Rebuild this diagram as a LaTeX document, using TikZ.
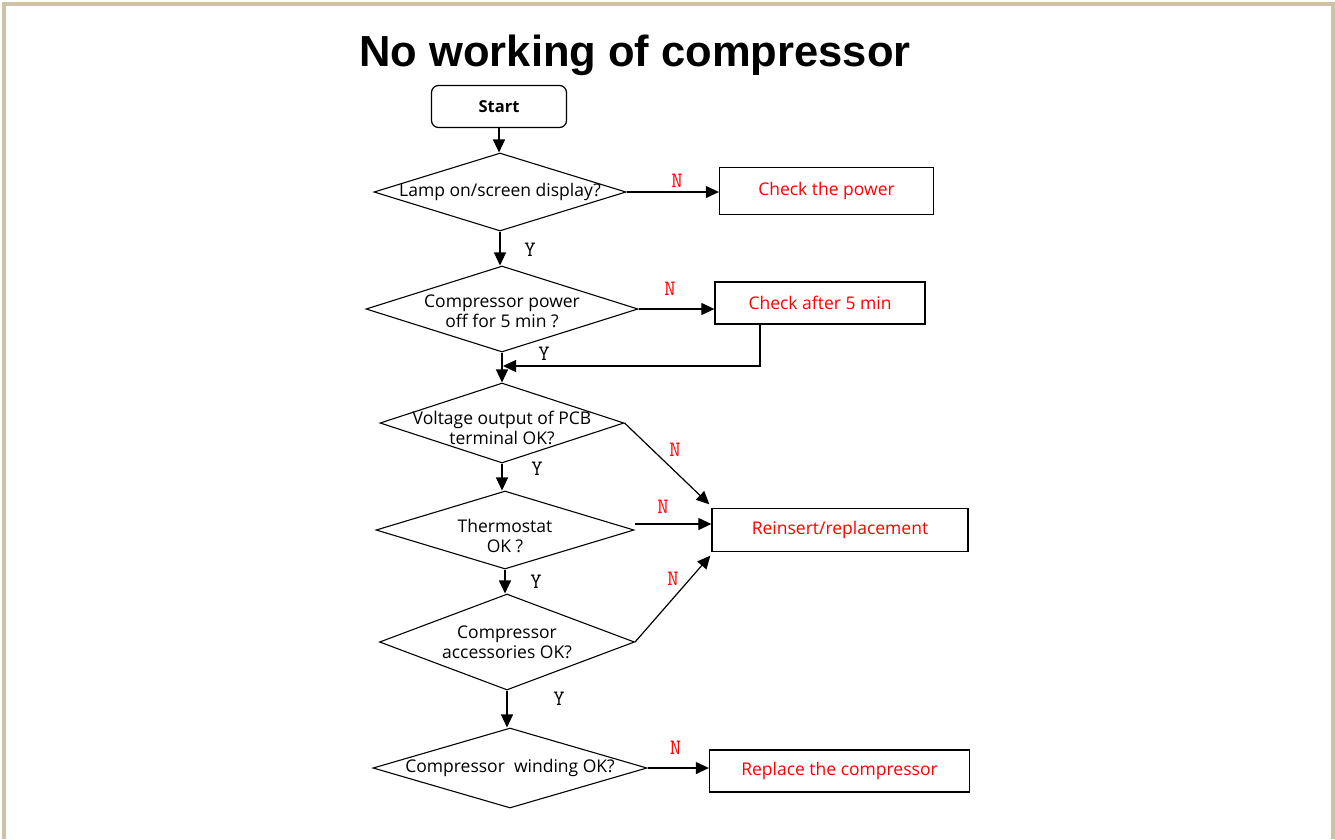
\documentclass[tikz,border=0pt]{standalone}
\usepackage{fontspec}
\usepackage{tikz}
\usetikzlibrary{arrows.meta, calc, positioning, shapes.geometric}
\newfontfamily\bodyfont{Open Sans}
\newfontfamily\titlefont{Liberation Sans}
\definecolor{framecol}{RGB}{206,193,166}
\begin{document}
\begin{tikzpicture}[x=1pt,y=-1pt,
    arr/.style={-{Triangle[length=13pt,width=12pt]},line width=1.2pt},
    decision/.style={diamond,draw,line width=1.1pt,inner sep=0pt},
    dtext/.style={font=\bodyfont\fontsize{17.5}{20}\selectfont,align=center,inner sep=0pt},
    todo/.style={rectangle,draw,line width=1.3pt,text=red,font=\bodyfont\fontsize{17.5}{20}\selectfont},
    yes/.style={font=\ttfamily\fontsize{22}{22}\selectfont},
    no/.style={yes,text=red}]
  \useasboundingbox (0,0) rectangle (1335,839);
  \draw[framecol,line width=4pt] (4,839) -- (4,4) -- (1333,4) -- (1333,839); %frame
  \node[font=\titlefont\bfseries\fontsize{43.5}{50}\selectfont,anchor=base] (title) at (635,66) {No working of compressor}; %title
  \node[draw,rounded corners=7pt,line width=1.2pt,minimum width=135pt,minimum height=42pt,
        font=\bodyfont\bfseries\fontsize{16.5}{18}\selectfont] (start) at (499,106.5) {Start};
  % decisions
  \node[decision,minimum width=252pt,minimum height=78pt,
        label={[dtext]center:Lamp on/screen display?}] (d1) at (500,192) {};
  \node[decision,minimum width=272pt,minimum height=86pt,
        label={[dtext,yshift=-2pt]center:Compressor power\\off for 5 min ?}] (d2) at (502,309) {};
  \node[decision,minimum width=244pt,minimum height=80pt,
        label={[dtext,yshift=-5pt]center:Voltage output of PCB\\terminal  OK?}] (d3) at (502,423) {};
  \node[decision,minimum width=258pt,minimum height=78pt,
        label={[dtext,yshift=-6pt]center:Thermostat\\OK ?}] (d4) at (505,530) {};
  \node[decision,minimum width=255pt,minimum height=96pt,
        label={[dtext]center:Compressor\\accessories OK?}] (d5) at (507,642) {};
  \node[decision,minimum width=274pt,minimum height=80pt,
        label={[dtext]center:Compressor\ \ winding OK?}] (d6) at (510,768) {};
  % actions
  \node[todo,minimum width=214pt,minimum height=47pt] (cp) at (826.5,191) {Check the power};
  \node[todo,minimum width=210pt,minimum height=42pt] (ca) at (820,303) {Check after 5 min};
  \node[todo,minimum width=256pt,minimum height=43pt] (rr) at (840,530) {Reinsert/replacement};
  \node[todo,minimum width=260pt,minimum height=42pt] (rc) at (839.5,771) {Replace the compressor};
  % yes branch
  \draw[arr] (start.south) -- (start.south |- d1.north);
  \draw[arr] (d1.south) -- (d1.south |- d2.north);
  \coordinate (m) at (503,366); %merge
  \draw[arr] (d2.south) -- (d2.south |- d3.north);
  \draw[arr] (d3.south) -- (d3.south |- d4.north);
  \draw[arr] (d4.south) -- (d4.south |- d5.north);
  \draw[arr] (d5.south) -- (d5.south |- d6.north);
  % no branch
  \draw[arr] (d1.east) -- (d1.east -| cp.west);
  \draw[arr] (d2.east) -- (d2.east -| ca.west);
  \draw[arr] ([xshift=-60pt]ca.south) |- (m);
  \draw[arr] (d3.east) -- ([shift={(-2pt,3.5pt)}]rr.north west);
  \draw[arr] ([yshift=6pt]d4.east) -- ([yshift=6pt]d4.east -| rr.west);
  \draw[arr] (d5.east) -- ([shift={(-1pt,-3.5pt)}]rr.south west);
  \draw[arr] (d6.east) -- (d6.east -| rc.west);
  % labels
  \node[yes] (y1) at (530,250) {Y};
  \node[yes] (y2) at (544,354) {Y};
  \node[yes] (y3) at (537,469) {Y};
  \node[yes] (y4) at (536,582) {Y};
  \node[yes] (y5) at (559,699) {Y};
  \node[no] (n1) at (677,181) {N};
  \node[no] (n2) at (670,289) {N};
  \node[no] (n3) at (675,450) {N};
  \node[no] (n4) at (663,507) {N};
  \node[no] (n5) at (673,579) {N};
  \node[no] (n6) at (675.5,748) {N};
\end{tikzpicture}
\end{document}
